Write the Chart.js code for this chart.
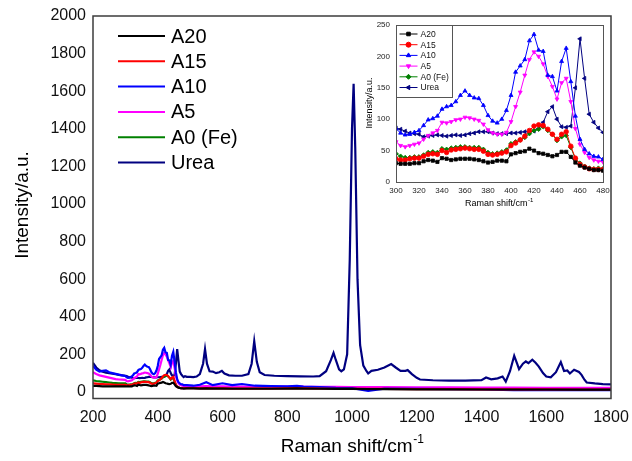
<!DOCTYPE html>
<html>
<head>
<meta charset="utf-8">
<script src="https://cdn.jsdelivr.net/npm/chart.js@4.4.0/dist/chart.umd.min.js"></script>
<style>
  html, body { margin: 0; padding: 0; background: #ffffff; }
  #wrap { position: relative; width: 632px; height: 461px; }
  #main { position: absolute; left: 0; top: 0; }
  #inset { position: absolute; left: 358px; top: 17px; }
</style>
</head>
<body>
<div id="wrap">
  <canvas id="main" width="632" height="461"></canvas>
  <canvas id="inset" width="252" height="200"></canvas>
</div>
<script>
// ---- Raman spectra (intensity in a.u. vs Raman shift in cm-1) ----
const seriesNames = ['A20', 'A15', 'A10', 'A5', 'A0 (Fe)', 'Urea'];

// 200–290 cm-1
const lowShift = [200, 210, 220, 230, 240, 250, 260, 270, 280, 290];
const lowA20  = [32, 32, 31, 30, 30, 30, 29, 29, 30, 30];
const lowA15  = [45, 44, 42, 41, 40, 40, 39, 38, 38, 37];
const lowA10  = [140, 118, 108, 112, 115, 105, 100, 96, 92, 88];
const lowA5   = [105, 95, 88, 84, 80, 76, 72, 68, 66, 65];
const lowA0   = [62, 58, 56, 54, 52, 50, 48, 47, 46, 45];
const lowUrea = [155, 130, 115, 108, 103, 100, 97, 94, 90, 88];

// 300–480 cm-1 (also shown enlarged in the inset)
const insetShift = [
  300, 304, 308, 312, 316, 320, 324, 328, 332, 336,
  340, 344, 348, 352, 356, 360, 364, 368, 372, 376,
  380, 384, 388, 392, 396, 400, 404, 408, 412, 416,
  420, 424, 428, 432, 436, 440, 444, 448, 452, 456,
  460, 464, 468, 472, 476, 480];
const midA20 = [
  30, 29, 29, 29, 30, 30, 33, 35, 34, 32,
  38, 37, 35, 36, 37, 37, 37, 36, 35, 33,
  31, 32, 34, 34, 33, 44, 46, 48, 49, 53,
  50, 46, 45, 43, 41, 43, 48, 48, 40, 31,
  26, 23, 21, 19, 19, 18];
const midA15 = [
  37, 35, 35, 37, 38, 38, 41, 44, 45, 44,
  50, 47, 51, 52, 53, 54, 53, 52, 52, 49,
  44, 43, 44, 46, 48, 58, 62, 67, 73, 82,
  89, 91, 90, 84, 76, 68, 76, 80, 57, 38,
  28, 24, 21, 20, 20, 20];
const midA10 = [
  85, 78, 75, 76, 79, 82, 90, 99, 101, 105,
  116, 120, 122, 128, 138, 145, 138, 134, 133, 122,
  106, 97, 94, 100, 114, 138, 175, 185, 195, 225,
  235, 210, 208, 170, 168, 145, 192, 213, 160, 105,
  68, 52, 45, 41, 40, 36];
const midA5 = [
  64, 58, 56, 58, 60, 62, 68, 74, 78, 82,
  95, 94, 96, 99, 100, 103, 102, 100, 98, 92,
  83, 78, 76, 76, 79, 96, 120, 143, 170, 195,
  207, 200, 188, 168, 152, 132, 158, 165, 128, 85,
  60, 47, 39, 35, 33, 32];
const midA0 = [
  45, 41, 39, 39, 40, 40, 43, 47, 48, 47,
  53, 52, 54, 55, 56, 56, 55, 55, 55, 52,
  47, 45, 46, 48, 51, 61, 64, 67, 71, 77,
  82, 84, 88, 82, 76, 66, 72, 74, 55, 37,
  30, 25, 22, 21, 22, 21];
const midUrea = [
  86, 84, 81, 78, 77, 76, 72, 73, 74, 75,
  74, 73, 74, 75, 74, 75, 77, 78, 80, 80,
  80, 78, 77, 77, 77, 78, 78, 79, 80, 80,
  81, 85, 95, 112, 120, 100, 88, 87, 89, 150,
  228, 165, 108, 95, 86, 79];

// 490–1800 cm-1, samples
const tailShift = [490, 510, 530, 550, 570, 600, 630, 660, 700, 750, 800, 830, 850,
                   900, 950, 1000, 1050, 1100, 1200, 1300, 1400, 1500, 1600, 1700, 1800];
const tailA20 = [19, 19, 18, 19, 18, 18, 17, 17, 17, 17, 18, 19, 18, 17, 16, 16, 15, 15, 14, 14, 13, 13, 13, 12, 12];
const tailA15 = [20, 20, 19, 20, 19, 19, 18, 18, 18, 18, 19, 20, 19, 18, 17, 17, 16, 16, 15, 15, 14, 14, 14, 13, 13];
const tailA10 = [36, 33, 38, 52, 36, 46, 36, 42, 33, 31, 30, 32, 28, 26, 22, 20, 5, 18, 16, 15, 13, 10, 10, 9, 9];
const tailA5  = [30, 29, 29, 31, 29, 29, 28, 28, 28, 28, 28, 30, 28, 27, 27, 26, 26, 25, 24, 24, 23, 23, 22, 22, 22];
const tailA0  = [22, 22, 22, 24, 22, 22, 22, 21, 21, 21, 22, 24, 22, 21, 20, 20, 19, 19, 18, 17, 16, 16, 16, 15, 15];

// Urea above 480 cm-1 (sharper bands, sampled more densely)
const ureaTailShift = [
  484, 490, 500, 510, 520, 530, 540, 546, 552, 560, 570, 580, 590, 598, 606, 620, 640, 660,
  680, 690, 698, 706, 715, 730, 760, 800, 840, 880, 900, 920, 935, 943, 950, 960, 967, 975,
  985, 993, 1000, 1005, 1010, 1017, 1025, 1035, 1045, 1050, 1060, 1080, 1100, 1121, 1135,
  1150, 1165, 1172, 1185, 1200, 1210, 1250, 1300, 1350, 1400, 1414, 1430, 1450, 1465, 1475,
  1488, 1501, 1510, 1516, 1528, 1537, 1545, 1557, 1567, 1577, 1590, 1600, 1614, 1630, 1645,
  1655, 1665, 1673, 1686, 1701, 1709, 1718, 1725, 1750, 1775, 1800];
const ureaTail = [
  84, 80, 80, 79, 82, 95, 150, 228, 150, 110, 108, 100, 105, 112, 98, 88, 86, 86,
  95, 150, 270, 160, 105, 90, 86, 84, 83, 82, 84, 110, 170, 208, 170, 120, 110, 120,
  200, 700, 1400, 1640, 1300, 600, 250, 140, 110, 98, 112, 118, 130, 148, 130,
  112, 112, 116, 95, 75, 66, 62, 60, 60, 63, 77, 67, 72, 82, 55,
  110, 192, 150, 121, 150, 162, 153, 171, 155, 135, 100, 82, 78, 105, 159,
  111, 114, 98, 118, 106, 91, 65, 50, 45, 42, 40];

// Axis ticks
const mainXTicks = [200, 400, 600, 800, 1000, 1200, 1400, 1600, 1800];
const mainYTicks = [0, 200, 400, 600, 800, 1000, 1200, 1400, 1600, 1800, 2000];
const insetXTicks = [300, 320, 340, 360, 380, 400, 420, 440, 460, 480];
const insetYTicks = [0, 50, 100, 150, 200, 250];

// ---- styling ----
const colors = ['#000000', '#ff0000', '#0000ff', '#ff00ff', '#008000', '#000080'];
const markers = [
  { style: 'rect', rot: 0 },
  { style: 'circle', rot: 0 },
  { style: 'triangle', rot: 0 },
  { style: 'triangle', rot: 180 },
  { style: 'rectRot', rot: 0 },
  { style: 'triangle', rot: -90 }
];
const FONT = "'Liberation Sans', Arial, Helvetica, sans-serif";
Chart.defaults.font.family = FONT;

const pairs = (xs, ys) => xs.map((x, i) => ({ x: x, y: ys[i] }));

// full spectra for the main plot
const fullA = [
  [lowA20, midA20, tailA20],
  [lowA15, midA15, tailA15],
  [lowA10, midA10, tailA10],
  [lowA5,  midA5,  tailA5],
  [lowA0,  midA0,  tailA0]
];
const fullShiftA = lowShift.concat(insetShift, tailShift);
const mainSeries = fullA.map(parts => pairs(fullShiftA, parts[0].concat(parts[1], parts[2])));
mainSeries.push(pairs(lowShift.concat(insetShift, ureaTailShift), lowUrea.concat(midUrea, ureaTail)));

const insetValues = [midA20, midA15, midA10, midA5, midA0, midUrea];

function keepTicks(list) {
  return function (scale) {
    scale.ticks = list.map(v => ({ value: v }));
  };
}
const plainLabel = v => String(v);

function drawSupTitle(ctx, text, sup, cx, cy, size, supSize, rotate) {
  ctx.save();
  ctx.translate(cx, cy);
  if (rotate) ctx.rotate(-Math.PI / 2);
  ctx.fillStyle = '#000';
  ctx.textBaseline = 'middle';
  ctx.font = size + 'px ' + FONT;
  const w1 = ctx.measureText(text).width;
  let w2 = 0;
  if (sup) {
    ctx.font = supSize + 'px ' + FONT;
    w2 = ctx.measureText(sup).width;
  }
  const x0 = -(w1 + w2) / 2;
  ctx.font = size + 'px ' + FONT;
  ctx.textAlign = 'left';
  ctx.fillText(text, x0, 0);
  if (sup) {
    ctx.font = supSize + 'px ' + FONT;
    ctx.fillText(sup, x0 + w1 + 0.5, -size * 0.38);
  }
  ctx.restore();
}

// ---- main plot decorations ----
const mainDecor = {
  id: 'mainDecor',
  afterDatasetsDraw(chart) {
    const { ctx, chartArea: a } = chart;
    ctx.save();
    ctx.strokeStyle = '#3c3c3c';
    ctx.lineWidth = 1.5;
    ctx.strokeRect(a.left, a.top, a.right - a.left, a.bottom - a.top);
    // legend
    ctx.font = '20px ' + FONT;
    ctx.textBaseline = 'middle';
    ctx.textAlign = 'left';
    chart.data.datasets.forEach((ds, i) => {
      const y = 36 + i * 25.3;
      ctx.strokeStyle = ds.borderColor;
      ctx.lineWidth = 2;
      ctx.beginPath();
      ctx.moveTo(118, y);
      ctx.lineTo(165, y);
      ctx.stroke();
      ctx.fillStyle = '#000';
      ctx.fillText(ds.label, 171, y + 1);
    });
    ctx.restore();
    drawSupTitle(ctx, 'Intensity/a.u.', '', 23, 205, 19, 0, true);
    drawSupTitle(ctx, 'Raman shift/cm', '-1', 352, 447, 19, 12, false);
  }
};

new Chart(document.getElementById('main'), {
  type: 'scatter',
  data: {
    datasets: mainSeries.map((d, i) => ({
      label: seriesNames[i],
      data: d,
      showLine: true,
      borderColor: colors[i],
      backgroundColor: colors[i],
      borderWidth: 2.2,
      pointRadius: 0,
      tension: 0
    }))
  },
  options: {
    responsive: false,
    animation: false,
    layout: { padding: { left: 0, right: 21, top: 16, bottom: 0 } },
    plugins: { legend: { display: false }, tooltip: { enabled: false } },
    scales: {
      x: {
        type: 'linear', min: 200, max: 1800,
        afterBuildTicks: keepTicks(mainXTicks),
        afterFit(s) { s.height = 62.5; s.paddingLeft = 0; s.paddingRight = 0; },
        grid: { display: false, drawTicks: false },
        border: { display: false },
        ticks: { padding: 9, color: '#111', font: { size: 16 }, maxRotation: 0, callback: plainLabel }
      },
      y: {
        type: 'linear', min: -35, max: 2000,
        afterBuildTicks: keepTicks(mainYTicks),
        afterFit(s) { s.width = 93; s.paddingTop = 0; s.paddingBottom = 0; },
        grid: { display: false, drawTicks: false },
        border: { display: false },
        ticks: { padding: 7, color: '#111', font: { size: 16 }, callback: plainLabel }
      }
    }
  },
  plugins: [mainDecor]
});

// ---- inset decorations ----
const insetDecor = {
  id: 'insetDecor',
  afterDatasetsDraw(chart) {
    const { ctx, chartArea: a } = chart;
    ctx.save();
    ctx.strokeStyle = '#555';
    ctx.lineWidth = 1;
    ctx.strokeRect(a.left + 0.5, a.top + 0.5, a.right - a.left, a.bottom - a.top);
    // legend box
    const bx = a.left + 0.5, by = a.top + 0.5, bw = 56, bh = 72;
    ctx.fillStyle = '#fff';
    ctx.fillRect(bx, by, bw, bh);
    ctx.strokeRect(bx, by, bw, bh);
    ctx.font = '8.5px ' + FONT;
    ctx.textBaseline = 'middle';
    ctx.textAlign = 'left';
    chart.data.datasets.forEach((ds, i) => {
      const y = by + 8.5 + i * 10.7;
      ctx.strokeStyle = ds.borderColor;
      ctx.fillStyle = ds.borderColor;
      ctx.lineWidth = 1;
      ctx.beginPath();
      ctx.moveTo(bx + 3, y);
      ctx.lineTo(bx + 21, y);
      ctx.stroke();
      Chart.helpers.drawPoint(ctx, {
        pointStyle: ds.pointStyle, radius: 2.5, rotation: ds.pointRotation, borderWidth: 1
      }, bx + 12, y);
      ctx.fillStyle = '#111';
      ctx.fillText(ds.label, bx + 24, y + 0.5);
    });
    ctx.restore();
    drawSupTitle(ctx, 'Intensity/a.u.', '', 12, 86, 9, 0, true);
    drawSupTitle(ctx, 'Raman shift/cm', '-1', 141, 187, 9, 6, false);
  }
};

new Chart(document.getElementById('inset'), {
  type: 'scatter',
  data: {
    datasets: insetValues.map((v, i) => ({
      label: seriesNames[i],
      data: pairs(insetShift, v),
      showLine: true,
      borderColor: colors[i],
      backgroundColor: colors[i],
      borderWidth: 1,
      pointStyle: markers[i].style,
      pointRotation: markers[i].rot,
      pointRadius: 2.3,
      pointBorderWidth: 0.8,
      tension: 0
    }))
  },
  options: {
    responsive: false,
    animation: false,
    layout: { padding: { left: 0, right: 7, top: 8, bottom: 0 } },
    plugins: { legend: { display: false }, tooltip: { enabled: false } },
    scales: {
      x: {
        type: 'linear', min: 300, max: 480,
        afterBuildTicks: keepTicks(insetXTicks),
        afterFit(s) { s.height = 35; s.paddingLeft = 0; s.paddingRight = 0; },
        grid: { display: false, drawTicks: false },
        border: { display: false },
        ticks: { padding: 4, color: '#222', font: { size: 8 }, maxRotation: 0, callback: plainLabel }
      },
      y: {
        type: 'linear', min: 0, max: 250,
        afterBuildTicks: keepTicks(insetYTicks),
        afterFit(s) { s.width = 38; s.paddingTop = 0; s.paddingBottom = 0; },
        grid: { display: false, drawTicks: false },
        border: { display: false },
        ticks: { padding: 6, color: '#222', font: { size: 8 }, callback: plainLabel }
      }
    }
  },
  plugins: [insetDecor]
});
</script>
</body>
</html>
